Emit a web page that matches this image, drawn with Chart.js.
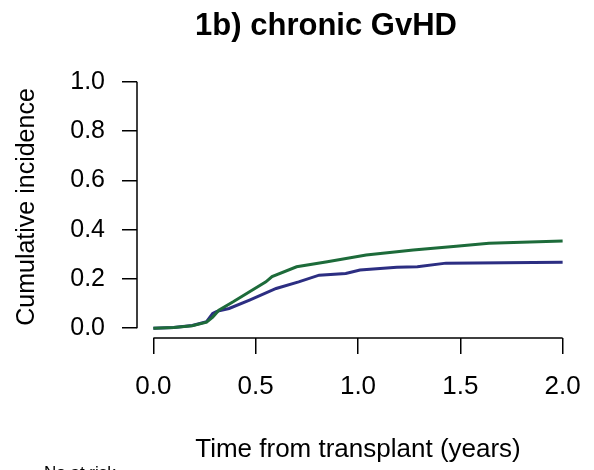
<!DOCTYPE html>
<html>
<head>
<meta charset="utf-8">
<script src="https://cdn.jsdelivr.net/npm/chart.js@4/dist/chart.umd.min.js"></script>
<style>
  html, body { margin: 0; padding: 0; background: #fff; }
  #wrap { width: 594px; height: 470px; position: relative; }
</style>
</head>
<body>
<div id="wrap"><canvas id="cifChart"></canvas></div>
<script>
// cumulative incidence (time in years)
var greenTimes = [0, 0.10, 0.19, 0.26, 0.29, 0.32, 0.39, 0.47, 0.55, 0.58, 0.70, 0.85, 1.04, 1.19, 1.27, 1.48, 1.64, 2.0];
var greenInc   = [0, 0.003, 0.010, 0.024, 0.045, 0.073, 0.107, 0.148, 0.188, 0.209, 0.249, 0.270, 0.297, 0.310, 0.317, 0.333, 0.345, 0.354];
var blueTimes  = [0, 0.10, 0.19, 0.26, 0.29, 0.31, 0.37, 0.47, 0.60, 0.71, 0.81, 0.94, 1.01, 1.19, 1.29, 1.43, 2.0];
var blueInc    = [0, 0.003, 0.011, 0.026, 0.060, 0.068, 0.080, 0.114, 0.161, 0.188, 0.215, 0.222, 0.236, 0.247, 0.249, 0.264, 0.268];
var xTicks = [0, 0.5, 1.0, 1.5, 2.0];
var yTicks = [0, 0.2, 0.4, 0.6, 0.8, 1.0];

var FONT = "'Liberation Sans', Arial, sans-serif";

function toPoints(xs, ys) {
  var pts = [];
  for (var i = 0; i < xs.length; i++) pts.push({ x: xs[i], y: ys[i] });
  return pts;
}

// R style: axis lines only between first and last tick, plus texts
var rAxes = {
  id: "rAxes",
  afterDraw: function (chart) {
    var ctx = chart.ctx;
    var xs = chart.scales.x, ys = chart.scales.y;
    var area = chart.chartArea;
    ctx.save();
    ctx.strokeStyle = "#000";
    ctx.lineWidth = 1.5;
    ctx.beginPath();
    ctx.moveTo(area.left, ys.getPixelForValue(0));
    ctx.lineTo(area.left, ys.getPixelForValue(1));
    ctx.moveTo(xs.getPixelForValue(0), area.bottom);
    ctx.lineTo(xs.getPixelForValue(2), area.bottom);
    ctx.stroke();

    ctx.fillStyle = "#000";
    ctx.textAlign = "center";
    ctx.textBaseline = "middle";
    ctx.font = "bold 31px " + FONT;
    ctx.fillText("1b) chronic GvHD", 326, 26);

    ctx.font = "26px " + FONT;
    ctx.fillText("Time from transplant (years)", 358, 450);

    ctx.font = "25px " + FONT;
    ctx.save();
    ctx.translate(27, 207);
    ctx.rotate(-Math.PI / 2);
    ctx.fillText("Cumulative incidence", 0, 0);
    ctx.restore();

    ctx.textAlign = "left";
    ctx.textBaseline = "top";
    ctx.font = "17px " + FONT;
    ctx.fillText("No at risk", 44, 465);
    ctx.restore();
  }
};

var ctx = document.getElementById("cifChart").getContext("2d");
var cifChart = new Chart(ctx, {
  type: "line",
  data: {
    datasets: [
      {
        label: "Group 1",
        data: toPoints(greenTimes, greenInc),
        borderColor: "#1d6b3a",
        borderWidth: 3,
        pointRadius: 0,
        fill: false,
        tension: 0
      },
      {
        label: "Group 2",
        data: toPoints(blueTimes, blueInc),
        borderColor: "#2c2e82",
        borderWidth: 3,
        pointRadius: 0,
        fill: false,
        tension: 0
      }
    ]
  },
  options: {
    responsive: true,
    maintainAspectRatio: false,
    animation: false,
    layout: { padding: { left: 0, right: 15, top: 72, bottom: 0 } },
    plugins: {
      legend: { display: false },
      tooltip: { enabled: false }
    },
    scales: {
      x: {
        type: "linear",
        min: -0.08,
        max: 2.08,
        afterBuildTicks: function (scale) {
          scale.ticks = xTicks.map(function (v) { return { value: v }; });
        },
        afterFit: function (scale) {
          scale.height = 132;
          scale.paddingLeft = 0;
          scale.paddingRight = 0;
        },
        border: { display: false },
        grid: {
          drawOnChartArea: false,
          drawTicks: true,
          tickLength: 16,
          color: "#000",
          lineWidth: 1.5
        },
        ticks: {
          color: "#000",
          font: { family: FONT, size: 26 },
          padding: 17,
          maxRotation: 0,
          callback: function (v) { return v.toFixed(1); }
        }
      },
      y: {
        type: "linear",
        min: -0.04,
        max: 1.04,
        afterBuildTicks: function (scale) {
          scale.ticks = yTicks.map(function (v) { return { value: v }; });
        },
        afterFit: function (scale) {
          scale.width = 137;
          scale.paddingTop = 0;
          scale.paddingBottom = 0;
        },
        border: { display: false },
        grid: {
          drawOnChartArea: false,
          drawTicks: true,
          tickLength: 15,
          color: "#000",
          lineWidth: 1.5
        },
        ticks: {
          color: "#000",
          font: { family: FONT, size: 25 },
          padding: 17,
          callback: function (v) { return v.toFixed(1); }
        }
      }
    }
  },
  plugins: [rAxes]
});
</script>
</body>
</html>
